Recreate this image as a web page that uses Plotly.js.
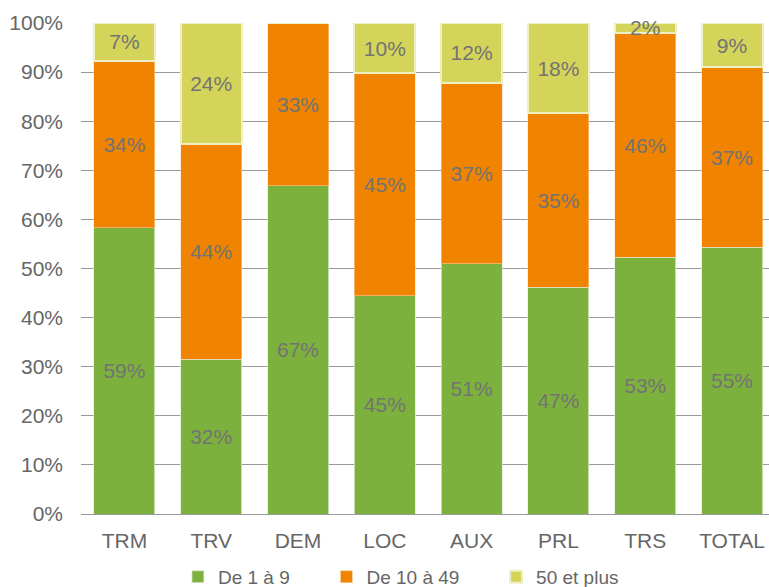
<!DOCTYPE html>
<html>
<head>
<meta charset="utf-8">
<script src="https://cdn.plot.ly/plotly-3.0.1.min.js"></script>
<style>html,body{margin:0;padding:0;background:#fff;}#chart{width:769px;height:587px;}</style>
</head>
<body>
<div id="chart"></div>
<script>
const categories = ['TRM', 'TRV', 'DEM', 'LOC', 'AUX', 'PRL', 'TRS', 'TOTAL'];
const small = [58.3, 31.5, 66.9, 44.5, 51.0, 46.2, 52.3, 54.3];
const medium = [34.0, 43.9, 33.1, 45.3, 36.8, 35.4, 45.7, 36.7];
const large = [7.7, 24.6, 0, 10.2, 12.2, 18.4, 2.0, 9.0];
const smallLabels = ['59%', '32%', '67%', '45%', '51%', '47%', '53%', '55%'];
const mediumLabels = ['34%', '44%', '33%', '45%', '37%', '35%', '46%', '37%'];
const largeLabels = ['7%', '24%', '', '10%', '12%', '18%', '2%', '9%'];
const seriesNames = ['De 1 à 9', 'De 10 à 49', '50 et plus'];

const FONT = 'Liberation Sans, Arial, sans-serif';
const NB = '\u00a0\u00a0\u00a0\u00a0\u00a0\u00a0';
function trace(name, y, text, color, lineColor, lineWidth) {
  return {
    type: 'bar', name: name, x: categories, y: y, text: text,
    textposition: 'inside', insidetextanchor: 'middle', textangle: 0,
    textfont: {family: FONT, size: 21, color: '#737373'},
    marker: {color: color, line: {color: lineColor, width: lineWidth}},
    cliponaxis: false, hoverinfo: 'x+y'
  };
}
const data = [
  trace(seriesNames[0] + NB, small, smallLabels, '#7db13d', 'rgba(230,240,220,0.7)', 1),
  trace(seriesNames[1] + NB, medium, mediumLabels, '#f08300', 'rgba(250,220,190,0.5)', 1),
  trace(seriesNames[2], large, largeLabels, '#d4d45a', '#eef0c4', 2)
];
const layout = {
  width: 769, height: 587,
  margin: {l: 81, r: 0, t: 23, b: 73, pad: 0, autoexpand: false},
  paper_bgcolor: '#fff', plot_bgcolor: '#fff',
  barmode: 'stack', bargap: 0.297,
  uniformtext: {minsize: 21, mode: 'show'},
  font: {family: FONT, color: '#6b6b6b', size: 19},
  xaxis: {
    range: [-0.5, 7.426], showgrid: false, zeroline: false, showline: false,
    ticks: '', ticklabelstandoff: 12,
    tickfont: {family: FONT, size: 21, color: '#666'}
  },
  yaxis: {
    range: [0, 100], dtick: 10, ticksuffix: '%', showline: false,
    gridcolor: '#999', gridwidth: 1, zeroline: true, zerolinecolor: '#999', zerolinewidth: 1,
    ticks: '', ticklabelstandoff: 17,
    tickfont: {family: FONT, size: 21, color: '#666'}
  },
  legend: {
    orientation: 'h', x: 0.465, xanchor: 'center', y: -0.128, yanchor: 'middle',
    font: {family: FONT, size: 19, color: '#666'}, traceorder: 'normal'
  },
  showlegend: true
};
Plotly.newPlot('chart', data, layout, {displayModeBar: false, staticPlot: true});
</script>
</body>
</html>
